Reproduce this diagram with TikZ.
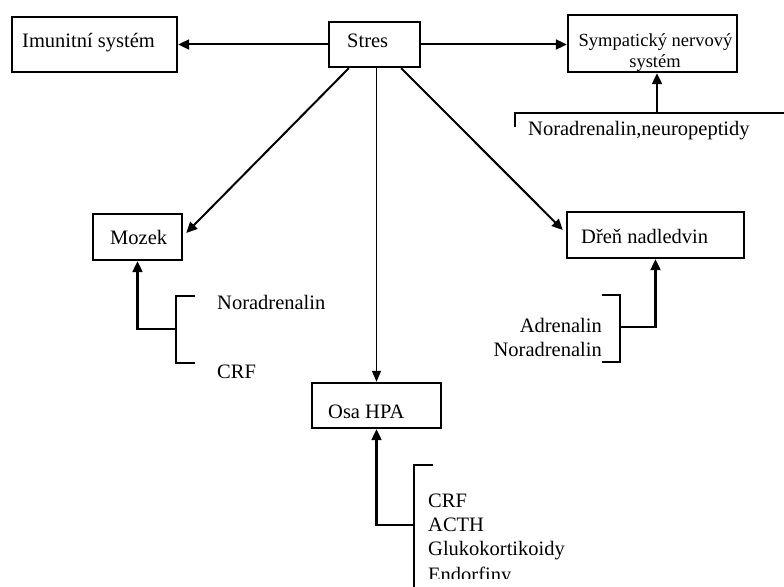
\documentclass[tikz,border=0pt]{standalone}
\usepackage{fontspec}
\setmainfont{Liberation Serif}
\usetikzlibrary{arrows.meta,calc}
\begin{document}
\begin{tikzpicture}[x=1pt,y=-1pt,
  box/.style={draw,line width=2.4pt,inner sep=0pt,fill=none},
  lbl/.style={inner sep=0pt,font=\fontsize{20.5}{24}\selectfont},
  small/.style={inner sep=0pt,font=\fontsize{18.5}{20}\selectfont},
  arr/.style={line width=2pt,-{Triangle[length=11pt,width=10pt]}},
  thinarr/.style={line width=1.3pt,-{Triangle[length=11pt,width=9pt]}},
  feed/.style={line width=2.2pt,-{Triangle[length=11pt,width=10pt]}},
  brk/.style={line width=2.2pt}]
\path[use as bounding box] (0,0) rectangle (784,586);

% boxes
\node[box,minimum width=165,minimum height=55] (imm) at (94.5,44.5) {};
\node[box,minimum width=91,minimum height=45] (stres) at (374.5,44.5) {};
\node[box,minimum width=169,minimum height=57] (symp) at (652.5,43.5) {};
\node[box,minimum width=89,minimum height=46] (mozek) at (137.5,237) {};
\node[box,minimum width=177,minimum height=46] (dren) at (655.5,235) {};
\node[box,minimum width=129,minimum height=45] (hpa) at (376.5,405.5) {};

% box captions
\node[lbl,anchor=base west] (imm-t) at (22,48) {Imunitní systém};
\node[lbl,anchor=base west] (stres-t) at (347,48) {Stres};
\node[small,anchor=base] (symp-t1) at (655.5,47) {Sympatický nervový};
\node[small,anchor=base] (symp-t2) at (655,67) {systém};
\node[lbl,anchor=base west] (mozek-t) at (110,244) {Mozek};
\node[lbl,anchor=base west] (dren-t) at (581,243) {Dřeň nadledvin};
\node[lbl,anchor=base west] (hpa-t) at (328,418) {Osa HPA};

% arrows from Stres
\draw[arr] (stres.west) -- (imm.east);
\draw[arr] (stres.east) -- (stres.east -| symp.west);
\draw[arr] ($(stres.south west)+(21,0)$) -- ($(mozek.east)+(3,-4)$);
\draw[arr] ($(stres.south east)+(-20,0)$) -- ($(dren.west)+(-3,-5)$);
\draw[thinarr] (hpa.north |- stres.south) -- (hpa.north);

% sympathetic nervous system feedback
\coordinate (sbarL) at (515,113);
\coordinate (sbarR) at (790,113);
\coordinate (sbarT) at (515,127);
\coordinate (sjoin) at (657,113);
\draw[brk] (sbarT) -- (sbarL) -- (sbarR);
\draw[feed] (sjoin) -- (sjoin |- symp.south);
\node[lbl,anchor=base west] (symp-in) at (528,135) {Noradrenalin,neuropeptidy};

% brain feedback
\coordinate (mb1) at (195,296);
\coordinate (mb2) at (195,363);
\coordinate (mjoin) at (176,329);
\draw[brk] (mb1) -- (mb1 -| mjoin) -- (mb2 -| mjoin) -- (mb2);
\draw[feed] (mjoin) -| (mozek.south);
\node[lbl,anchor=base west] (moz-in1) at (217,309) {Noradrenalin};
\node[lbl,anchor=base west] (moz-in2) at (217,378) {CRF};

% adrenal medulla feedback
\coordinate (db1) at (602,295);
\coordinate (db2) at (602,362);
\coordinate (djoin) at (620,327);
\draw[brk] (db1) -- (db1 -| djoin) -- (db2 -| djoin) -- (db2);
\draw[feed] (djoin) -| (dren.south);
\node[lbl,anchor=base east] (dren-in1) at (602,332) {Adrenalin};
\node[lbl,anchor=base east] (dren-in2) at (602,356) {Noradrenalin};

% HPA axis feedback
\coordinate (hb1) at (433,465);
\coordinate (hb2) at (414,600);
\coordinate (hjoin) at (414,525);
\draw[brk] (hb1) -- (hb1 -| hjoin) -- (hb2);
\draw[feed] (hjoin) -| (hpa.south);
\node[lbl,anchor=base west] (hpa-in1) at (428,507) {CRF};
\node[lbl,anchor=base west] (hpa-in2) at (428,531) {ACTH};
\node[lbl,anchor=base west] (hpa-in3) at (428,555) {Glukokortikoidy};
\begin{scope}
\clip (420,560) rectangle (600,578);
\node[lbl,anchor=base west] (hpa-in4) at (428,581) {Endorfiny};
\end{scope}
\end{tikzpicture}
\end{document}
